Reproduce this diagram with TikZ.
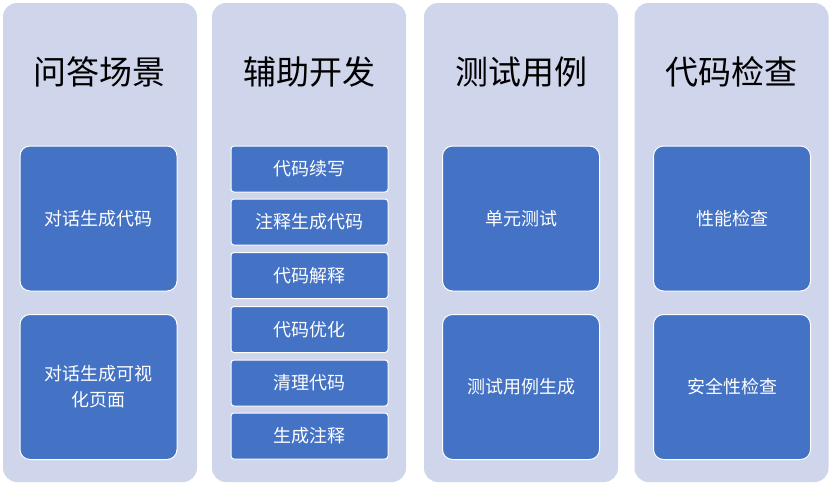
\documentclass[tikz,border=0pt]{standalone}
\usepackage{fontspec}
\setmainfont{Noto Sans CJK SC}
\usetikzlibrary{positioning}
\definecolor{colbg}{RGB}{207,213,234}
\definecolor{boxbl}{RGB}{68,114,196}
\tikzset{
  colbox/.style={fill=colbg,rounded corners=14pt,minimum width=194pt,minimum height=479pt,inner sep=0pt},
  head/.style={font=\fontsize{33}{40}\selectfont,text=black},
  bigbox/.style={fill=boxbl,draw=white,line width=1pt,rounded corners=10pt,minimum width=157pt,minimum height=145pt,text=white,font=\fontsize{18}{26}\selectfont,align=center,text width=140pt},
  smallbox/.style={fill=boxbl,draw=white,line width=1pt,rounded corners=3pt,minimum width=157pt,minimum height=46pt,text=white,font=\fontsize{18}{22}\selectfont},
}
\begin{document}
\begin{tikzpicture}[x=1pt,y=-1pt]
\useasboundingbox (0,0) rectangle (831,485);
% columns
\node[colbox] (c1) at (100,242.5) {};
\node[colbox] (c2) at (309,242.5) {};
\node[colbox] (c3) at (521,242.5) {};
\node[colbox] (c4) at (731.5,242.5) {};
% headers
\node[head] (h1) at (100,72) {问答场景};
\node[head] (h2) at (309,72) {辅助开发};
\node[head] (h3) at (521,72) {测试用例};
\node[head] (h4) at (731.5,72) {代码检查};
% column 1
\node[bigbox] (q1) at (98.5,218.5) {对话生成代码};
\node[bigbox] (q2) at (98.5,387) {对话生成可视\\化页面};
% column 2
\node[smallbox] (a1) at (309.5,169) {代码续写};
\node[smallbox] (a2) at (309.5,222) {注释生成代码};
\node[smallbox] (a3) at (309.5,275.5) {代码解释};
\node[smallbox] (a4) at (309.5,329.5) {代码优化};
\node[smallbox] (a5) at (309.5,383) {清理代码};
\node[smallbox] (a6) at (309.5,436) {生成注释};
% column 3
\node[bigbox] (t1) at (521,218.5) {单元测试};
\node[bigbox] (t2) at (521,387) {测试用例生成};
% column 4
\node[bigbox] (k1) at (732,218.5) {性能检查};
\node[bigbox] (k2) at (732,387) {安全性检查};
\end{tikzpicture}
\end{document}
